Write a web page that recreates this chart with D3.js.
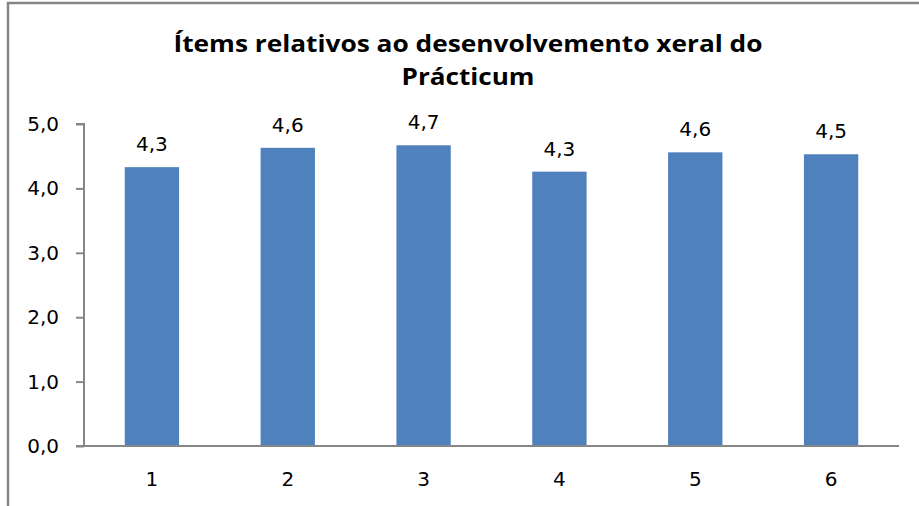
<!DOCTYPE html>
<html><head><meta charset="utf-8">
<script src="https://cdn.jsdelivr.net/npm/d3@7"></script>
<style>body{margin:0;background:#fff}svg{display:block}</style>
</head><body>
<script>
const categories = ["1","2","3","4","5","6"];
const values = [4.33, 4.63, 4.67, 4.26, 4.56, 4.53];
const valueLabels = ["4,3","4,6","4,7","4,3","4,6","4,5"];
const yTicks = [0,1,2,3,4,5];
const titleLines = ["Ítems relativos ao desenvolvemento xeral do","Prácticum"];

const W = 919, H = 506;
const svg = d3.select("body").append("svg").attr("width", W).attr("height", H);

// frame
svg.append("path").attr("d", `M8,${H} V3 H${W}`).attr("fill","none").attr("stroke","#868686").attr("stroke-width",2.5);

const x0 = 84, x1 = 899, yTop = 124, yBot = 446;
const x = d3.scaleBand().domain(categories).range([x0, x1]).paddingInner(0.6).paddingOuter(0.3);
const y = d3.scaleLinear().domain([0,5]).range([yBot, yTop]);

// title
const title = svg.append("text").attr("text-anchor","middle")
  .attr("font-family","'Open Sans','Liberation Sans',Arial,sans-serif")
  .attr("font-weight","bold").attr("font-size",24).attr("fill","#000");
title.append("tspan").attr("x",468).attr("y",52).attr("textLength",589).attr("lengthAdjust","spacingAndGlyphs").text(titleLines[0]);
title.append("tspan").attr("x",468).attr("y",85).attr("textLength",133).attr("lengthAdjust","spacingAndGlyphs").text(titleLines[1]);

// bars
svg.selectAll("rect.bar").data(values).join("rect").attr("class","bar")
  .attr("x",(d,i)=>x(categories[i])).attr("width",x.bandwidth())
  .attr("y",d=>y(d)).attr("height",d=>yBot-y(d)).attr("fill","#4F81BD");

// value labels
svg.selectAll("text.val").data(values).join("text").attr("class","val")
  .attr("x",(d,i)=>x(categories[i])+x.bandwidth()/2).attr("y",d=>y(d)-16)
  .attr("text-anchor","middle").attr("font-family","'DejaVu Sans',Verdana,sans-serif")
  .attr("font-size",20).attr("fill","#000").text((d,i)=>valueLabels[i]);

// y axis
const yAxis = d3.axisLeft(y).tickValues(yTicks).tickSize(8).tickPadding(17)
  .tickFormat(d=>d3.format(".1f")(d).replace(".",","));
const gy = svg.append("g").attr("transform",`translate(${x0},0)`).call(yAxis);
gy.select(".domain").attr("stroke","#868686").attr("stroke-width",2).attr("d",`M-8,${yTop}H0V${yBot}`);
gy.selectAll(".tick line").attr("stroke","#868686").attr("stroke-width",2);
gy.selectAll(".tick text").attr("font-family","'DejaVu Sans',Verdana,sans-serif").attr("font-size",20).attr("fill","#000");

// x axis
const xAxis = d3.axisBottom(x).tickSize(0).tickPadding(26);
const gx = svg.append("g").attr("transform",`translate(0,${yBot})`).call(xAxis);
gx.select(".domain").attr("stroke","#868686").attr("stroke-width",2).attr("d",`M${x0-8},0H${x1}`);
gx.selectAll(".tick text").attr("font-family","'DejaVu Sans',Verdana,sans-serif").attr("font-size",20).attr("fill","#000");
</script>
</body></html>
